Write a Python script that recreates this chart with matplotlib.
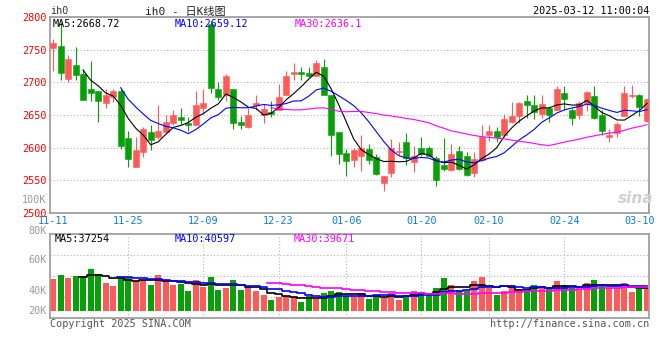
import numpy as np
import pandas as pd
import matplotlib
matplotlib.use('Agg')
import matplotlib.pyplot as plt

# daily K data for ih0
opens = [2753, 2756, 2705, 2727, 2712, 2690, 2687, 2669, 2677, 2687,
         2615, 2571, 2593, 2624, 2617, 2624, 2638, 2647, 2638, 2635,
         2660, 2789, 2690, 2680, 2690, 2639, 2631, 2665, 2650, 2655,
         2658, 2681, 2712, 2716, 2715, 2709, 2723, 2680, 2624, 2592,
         2581, 2587, 2598, 2586, 2546, 2561, 2594, 2608, 2578, 2599,
         2599, 2584, 2574, 2566, 2595, 2588, 2561, 2581, 2619, 2626,
         2619, 2640, 2648, 2672, 2665, 2652, 2661, 2658, 2684, 2657,
         2650, 2668, 2679, 2650, 2616, 2622, 2649, 2679, 2681, 2641]
highs = [2766, 2792, 2742, 2754, 2721, 2733, 2687, 2690, 2690, 2690,
         2626, 2616, 2631, 2634, 2665, 2650, 2658, 2660, 2647, 2687,
         2690, 2794, 2701, 2712, 2690, 2648, 2660, 2681, 2667, 2672,
         2697, 2718, 2730, 2724, 2724, 2734, 2735, 2680, 2624, 2598,
         2599, 2619, 2605, 2590, 2557, 2614, 2608, 2623, 2603, 2617,
         2603, 2587, 2615, 2606, 2603, 2593, 2593, 2635, 2635, 2631,
         2652, 2670, 2670, 2681, 2681, 2681, 2663, 2695, 2695, 2661,
         2672, 2686, 2694, 2658, 2628, 2639, 2695, 2696, 2682, 2675]
lows = [2717, 2704, 2700, 2704, 2673, 2671, 2640, 2660, 2670, 2598,
        2570, 2571, 2585, 2597, 2614, 2622, 2635, 2635, 2625, 2634,
        2651, 2683, 2673, 2672, 2628, 2629, 2630, 2658, 2638, 2647,
        2657, 2680, 2704, 2704, 2708, 2709, 2680, 2588, 2575, 2556,
        2570, 2565, 2575, 2558, 2533, 2555, 2589, 2573, 2563, 2587,
        2587, 2541, 2564, 2565, 2566, 2557, 2555, 2579, 2610, 2608,
        2617, 2638, 2638, 2645, 2644, 2646, 2640, 2658, 2658, 2634,
        2644, 2656, 2644, 2619, 2609, 2616, 2648, 2676, 2648, 2640]
closes = [2760, 2715, 2735, 2711, 2673, 2683, 2672, 2680, 2687, 2602,
          2583, 2597, 2628, 2612, 2625, 2640, 2650, 2643, 2635, 2665,
          2668, 2691, 2677, 2710, 2638, 2634, 2650, 2669, 2659, 2651,
          2677, 2710, 2716, 2712, 2709, 2730, 2680, 2619, 2591, 2579,
          2597, 2599, 2581, 2560, 2557, 2599, 2595, 2584, 2587, 2591,
          2588, 2551, 2568, 2591, 2568, 2558, 2583, 2616, 2626, 2616,
          2644, 2649, 2668, 2666, 2654, 2667, 2650, 2690, 2674, 2645,
          2668, 2685, 2645, 2626, 2620, 2636, 2684, 2681, 2663, 2675]
volumes = [49800, 54200, 50900, 53100, 52700, 60900, 55300, 45300, 42000, 51600,
           51600, 47200, 49000, 43100, 54200, 47200, 43500, 44200, 36500, 48700,
           40500, 52000, 37600, 39800, 48700, 37600, 40500, 36800, 32400, 26500,
           30200, 30900, 29800, 24200, 30500, 27600, 34200, 36800, 35300, 30500,
           29400, 34200, 27900, 31300, 28700, 33900, 26800, 32400, 36800, 35300,
           33100, 39800, 50900, 43100, 37600, 36100, 47200, 52000, 39800, 32400,
           36800, 43100, 38700, 39000, 43100, 39800, 38700, 47600, 43100, 39800,
           38300, 45300, 48700, 44200, 39800, 39800, 45300, 35700, 38700, 39800]

date_idx = [0, 10, 20, 30, 39, 49, 58, 68, 78]
date_lbl = ['11-11', '11-25', '12-09', '12-23', '01-06', '01-20', '02-10', '02-24', '03-10']
price_ticks = [2500, 2550, 2600, 2650, 2700, 2750, 2800]
vol_labels = ['100K', '80K', '60K', '40K', '20K']

RED = '#ff5a5a'
GREEN = '#08a008'
GRID = '#b4b4b4'
FRAME = '#a0a0a0'
MONO = 'DejaVu Sans Mono'
FS = 7.3

o = np.array(opens); h = np.array(highs); l = np.array(lows); c = np.array(closes)
v = np.array(volumes)
x = np.arange(len(c))
col = np.where(c >= o, RED, GREEN)

fig = plt.figure(figsize=(6.6, 3.6), dpi=100)
W, H = 660, 360
ax = fig.add_axes([50 / W, 1 - 213 / H, 599 / W, 196 / H])
axv = fig.add_axes([50 / W, 1 - 318.3 / H, 599 / W, 84 / H])

# candles
ax.vlines(x, l, h, colors=col, lw=0.8, zorder=2)
ax.bar(x, np.abs(c - o), bottom=np.minimum(o, c), width=0.8, color=col,
       edgecolor=col, lw=0.4, zorder=3)

s = pd.Series(c, dtype=float)
ax.plot(x, s.rolling(5).mean(), color='black', lw=0.8, zorder=4)
ax.plot(x, s.rolling(10).mean(), color='#0000ff', lw=0.8, zorder=4)
ax.plot(x, s.rolling(30).mean(), color='#ff00ff', lw=0.8, zorder=4)

xlim = (-0.4, 79.27)
ax.set_xlim(*xlim)
ax.set_ylim(2500, 2800)
ax.set_yticks(price_ticks)
ax.set_yticklabels([str(t) for t in price_ticks], color='red', fontsize=FS, family=MONO)
ax.set_xticks(date_idx)
ax.set_xticklabels(date_lbl, color='#0a7fd6', fontsize=FS, family=MONO)
ax.set_xticks(date_idx[1:-1], minor=True)
ax.tick_params(which='both', length=0, pad=2.4)
ax.grid(which='major', axis='y', color=GRID, ls=(0, (1, 2)), lw=0.8)
ax.grid(which='minor', axis='x', color=GRID, ls=(0, (1, 2)), lw=0.8)

# volume
vol_floor = 14600
axv.bar(x, v - vol_floor, bottom=vol_floor, width=0.8, color=col, zorder=2)
vs = pd.Series(v, dtype=float)
axv.plot(x, vs.rolling(5).mean(), color='black', lw=1.2, drawstyle='steps-mid', zorder=3)
axv.plot(x, vs.rolling(10).mean(), color='#0000ff', lw=1.2, drawstyle='steps-mid', zorder=3)
axv.plot(x, vs.rolling(30).mean(), color='#ff00ff', lw=1.2, drawstyle='steps-mid', zorder=3)
axv.set_xlim(*xlim)
vlo, vhi = 6200, 99500
axv.set_ylim(vlo, vhi)
axv.set_yticks(np.linspace(vlo, vhi, 5)[1:-1])
axv.set_yticklabels([])
axv.set_xticks([])
axv.set_xticks(date_idx[1:-1], minor=True)
axv.tick_params(which='both', length=0)
axv.grid(which='major', axis='y', color=GRID, ls=(0, (1, 2)), lw=0.8)
axv.grid(which='minor', axis='x', color=GRID, ls=(0, (1, 2)), lw=0.8)

for a in (ax, axv):
    a.set_axisbelow(True)
    for sp in a.spines.values():
        sp.set_color(FRAME)
        sp.set_linewidth(1.3)

# labels and captions
def px(xp, yp, txt, **kw):
    fig.text(xp / W, 1 - yp / H, txt, family=MONO, fontsize=FS, va='center', **kw)

for lbl, yp in zip(vol_labels, [200, 231, 260, 290.7, 311]):
    px(46.5, yp, lbl, ha='right', color='#9a9a9a')

px(50, 11.5, 'ih0', ha='left', color='#333333')
fig.text(185 / W, 1 - 11.5 / H, 'ih0 - 日K线图', family=[MONO, 'Noto Sans CJK SC'],
         fontsize=8, va='center', ha='center', color='#222222')
px(649, 11.5, '2025-03-12 11:00:04', ha='right', color='black')

px(53, 24, 'MA5:2668.72', ha='left', color='black', zorder=6)
px(174.5, 24, 'MA10:2659.12', ha='left', color='#0000ff', zorder=6)
px(295, 24, 'MA30:2636.1', ha='left', color='#ff00ff', zorder=6)

px(55, 239, 'MA5:37254', ha='left', color='black')
px(175, 239, 'MA10:40597', ha='left', color='#0000ff')
px(294, 239, 'MA30:39671', ha='left', color='#ff00ff')

px(50, 324, 'Copyright 2025 SINA.COM', ha='left', color='#555555')
px(649, 324, 'http://finance.sina.com.cn', ha='right', color='#555555')

fig.text(636 / W, 1 - 198 / H, 'sina', fontsize=11, style='italic', weight='bold',
         color='#d0d0d0', ha='center', va='center')

fig.savefig('out.png', dpi=100)
